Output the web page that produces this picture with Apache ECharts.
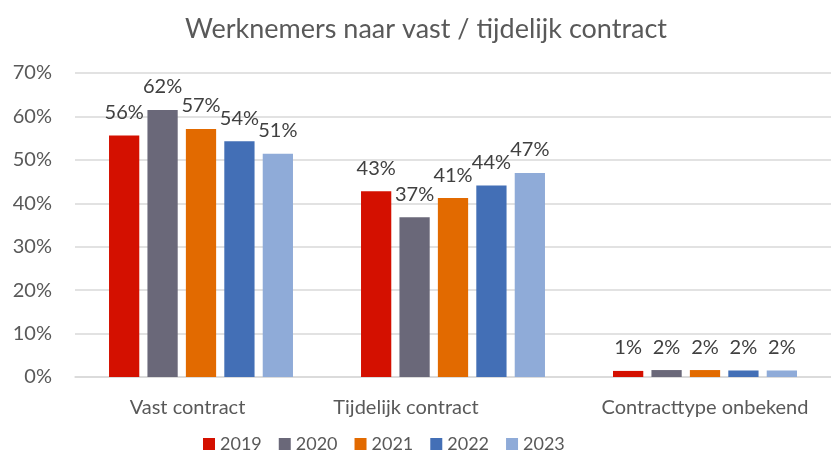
<!DOCTYPE html>
<html><head><meta charset="utf-8">
<script src="https://cdn.jsdelivr.net/npm/echarts@6/dist/echarts.min.js"></script>
<style>html,body{margin:0;padding:0;background:#fff}#c{width:831px;height:451px}</style>
</head><body><div id="c"></div>
<script>
const categories = ['Vast contract', 'Tijdelijk contract', 'Contracttype onbekend'];
const years = ['2019', '2020', '2021', '2022', '2023'];
const v2019 = [55.6, 42.8, 1.4];
const v2020 = [61.5, 36.8, 1.6];
const v2021 = [57.1, 41.2, 1.6];
const v2022 = [54.3, 44.1, 1.5];
const v2023 = [51.4, 47.0, 1.5];
const seriesValues = [v2019, v2020, v2021, v2022, v2023];
const colors = ['#D41000', '#6A6879', '#E26A00', '#436FB6', '#8FABD8'];
const yTicks = [0, 10, 20, 30, 40, 50, 60, 70];

const font = 'Lato, sans-serif';
const chart = echarts.init(document.getElementById('c'), null, {renderer: 'canvas'});
const catPadding = [[0, 27, 0, 0], [0, 94, 0, 0], [0, 0, 0, 0]];
chart.setOption({
  animation: false,
  title: {
    text: 'Werknemers naar vast / tijdelijk contract',
    left: 180, top: 11,
    textStyle: {fontFamily: font, fontSize: 27, fontWeight: 'normal', color: '#595959'}
  },
  legend: {
    data: years, left: 198, top: 430, itemWidth: 12, itemHeight: 12, itemGap: 17,
    icon: 'rect',
    textStyle: {fontFamily: font, fontSize: 18, color: '#595959'}
  },
  grid: {left: 75, top: 73, width: 767, bottom: 74, containLabel: false},
  xAxis: {
    type: 'category',
    data: categories.map((c, i) => ({value: c, textStyle: {padding: catPadding[i]}})),
    axisLine: {lineStyle: {color: '#D9D9D9', width: 1.5}},
    axisTick: {show: false},
    axisLabel: {fontFamily: font, fontSize: 20, color: '#595959', margin: 21, interval: 0}
  },
  yAxis: {
    type: 'value', min: yTicks[0], max: yTicks[yTicks.length - 1], interval: 10,
    axisLine: {show: false}, axisTick: {show: false},
    splitLine: {lineStyle: {color: '#D9D9D9', width: 1.5}},
    axisLabel: {fontFamily: font, fontSize: 20, color: '#595959', margin: 23, formatter: v => v + '%'}
  },
  series: years.map((y, i) => ({
    name: y, type: 'bar', data: seriesValues[i],
    barGap: '27%', barCategoryGap: '27%',
    itemStyle: {color: colors[i]},
    label: {
      show: true, position: 'top', distance: 13,
      fontFamily: font, fontSize: 20, color: '#404040',
      formatter: p => Math.round(p.value) + '%'
    }
  }))
});
</script></body></html>
